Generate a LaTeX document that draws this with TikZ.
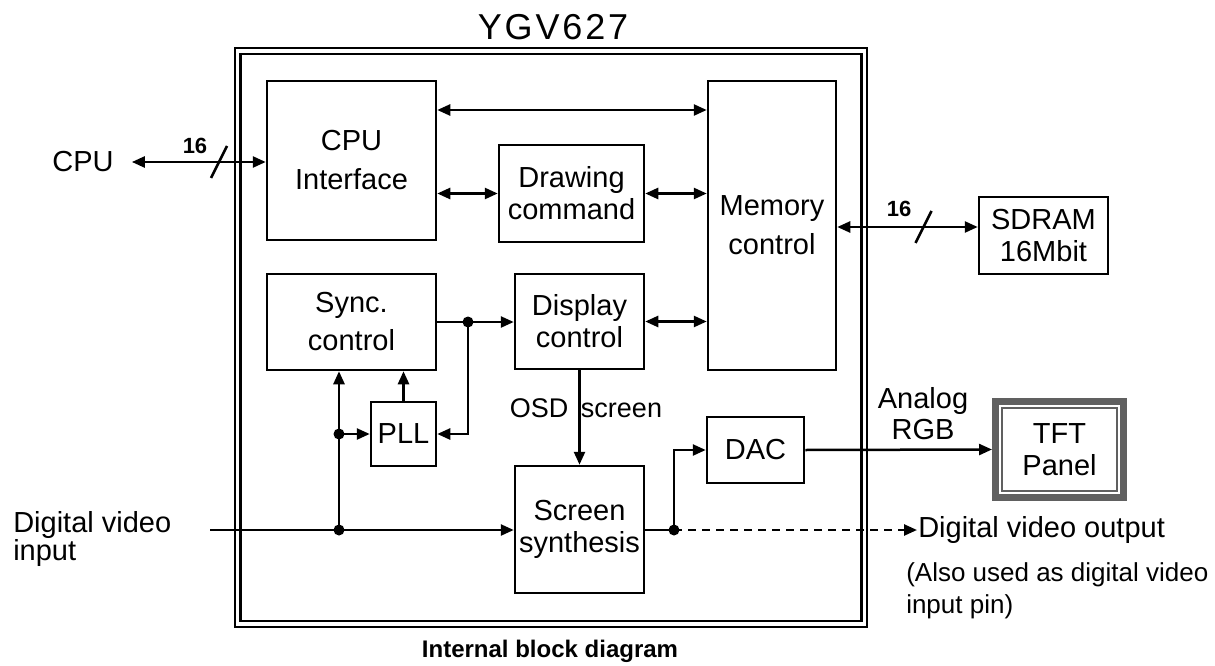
\documentclass[tikz,border=0pt]{standalone}
\usepackage{fontspec}
\setmainfont{Liberation Sans}
\usetikzlibrary{arrows.meta}
\tikzstyle{every node}=[font=\fontsize{29}{32}\selectfont, align=center, inner sep=0pt]
\tikzstyle{block}=[draw, line width=2.5pt]
\tikzstyle{buswidth}=[font=\bfseries\fontsize{22}{22}\selectfont]
\tikzstyle{junction}=[fill=black]
\definecolor{panelgray}{RGB}{96,96,96}

\begin{document}
\begin{tikzpicture}[x=1pt, y=-1pt, line width=2.5pt, >={Triangle[length=13pt,width=11pt]}]
    \useasboundingbox (0,0) rectangle (1215,666);
% Chip
    \draw[line width=2.2pt] (235,48) rectangle (867,627);
    \draw[line width=2.2pt] (240.5,54) rectangle (861.5,621);
    \node (chip) at (553,27) {\fontsize{36}{36}\selectfont\addfontfeature{LetterSpace=8}YGV627};
% Blocks
    \node[block, minimum width=169pt, minimum height=159pt] (cpuif) at (351.5,160.5) {CPU\\[7pt]Interface};
    \node[block, minimum width=145pt, minimum height=97pt] (drawcmd) at (571.5,193.5) {Drawing\\command};
    \node[block, minimum width=128pt, minimum height=289pt] (memctl) at (772,225.5) {Memory\\[7pt]control};
    \node[block, minimum width=169pt, minimum height=96pt] (sync) at (351.5,322) {Sync.\\[6pt]control};
    \node[block, minimum width=129pt, minimum height=95pt] (dispctl) at (579.5,321.5) {Display\\control};
    \node[block, minimum width=65pt, minimum height=64pt] (pll) at (403.5,434) {PLL};
    \node[block, minimum width=129pt, minimum height=127pt] (synth) at (579.5,529.5) {Screen\\synthesis};
    \node[block, minimum width=97pt, minimum height=66pt] (dac) at (755.5,450) {DAC};
    \node[block, minimum width=129pt, minimum height=77pt] (sdram) at (1043.5,235.5) {SDRAM\\16Mbit};
    \node[draw=panelgray, line width=7pt, minimum width=128pt, minimum height=96pt] (tft) at (1059.5,449.5) {TFT\\Panel};
    \draw[panelgray, line width=1.5pt] ([shift={(10,10)}]tft.north west) rectangle ([shift={(-10,-10)}]tft.south east);
% Outside labels
    \node (cpu) at (83,162) {CPU};
    \node[anchor=north west, align=left, font=\fontsize{29}{26}\selectfont] (vin) at (12,510) {Digital video\\input};
    \node[anchor=west] (vout) at (917,530) {Digital video output};
    \node[anchor=north west, align=left, font=\fontsize{26}{32}\selectfont] (note) at (905,561) {(Also used as digital video\\input pin)};
    \node[font=\fontsize{29}{31}\selectfont] (analog) at (923,413.5) {Analog\\RGB};
    \node[font=\fontsize{27}{30}\selectfont] (osd) at (586,408) {OSD\hspace{5pt} screen};
    \node[font=\bfseries\fontsize{24}{24}\selectfont] (caption) at (550,651) {Internal block diagram};
% Buses
    \draw[<->] ([xshift=17pt]cpu.east) -- (cpuif.west |- cpu);
    \coordinate (cpubus) at (219,162);
    \draw ([shift={(-8,16)}]cpubus) -- ([shift={(8,-16)}]cpubus);
    \node[buswidth] (cpuwidth) at (195,146) {16};
    \draw[<->] (memctl.east |- 0,227) -- (sdram.west |- 0,227);
    \coordinate (rambus) at (923.5,227);
    \draw ([shift={(-8,16)}]rambus) -- ([shift={(8,-16)}]rambus);
    \node[buswidth] (ramwidth) at (899,209) {16};
% Internal connections
    \draw[<->] (cpuif.east |- 0,110) -- (memctl.west |- 0,110);
    \draw[<->] (cpuif.east |- drawcmd) -- (drawcmd.west);
    \draw[<->] (drawcmd.east) -- (memctl.west |- drawcmd);
    \draw[<->] (dispctl.east) -- (memctl.west |- dispctl);
    \coordinate (j1) at (468,322);
    \draw (sync.east |- j1) -- (j1);
    \draw[->] (j1) -- (dispctl.west |- j1);
    \draw[->] (j1) |- (pll.east);
    \draw[->] (pll.north) -- (pll.north |- sync.south);
    \coordinate (vinstart) at (210,530);
    \coordinate (j2) at (339,530);
    \coordinate (j3) at (339,434);
    \draw[->] (vinstart) -- (synth.west |- vinstart);
    \draw[->] (j2) -- (sync.south -| j2);
    \draw[->] (j3) -- (pll.west);
    \draw[->] (dispctl.south) -- (synth.north);
    \coordinate (j4) at (674,530);
    \draw (synth.east |- j4) -- (j4);
    \draw[->] (j4) |- (dac.west);
    \draw[->, dash pattern=on 8pt off 6pt] (j4) -- (vout.west);
    \draw[->] (dac.east) -- (tft.west);
% Junctions
    \fill[junction] (j1) circle(5.5);
    \fill[junction] (j2) circle(5.5);
    \fill[junction] (j3) circle(5.5);
    \fill[junction] (j4) circle(5.5);
\end{tikzpicture}
\end{document}
